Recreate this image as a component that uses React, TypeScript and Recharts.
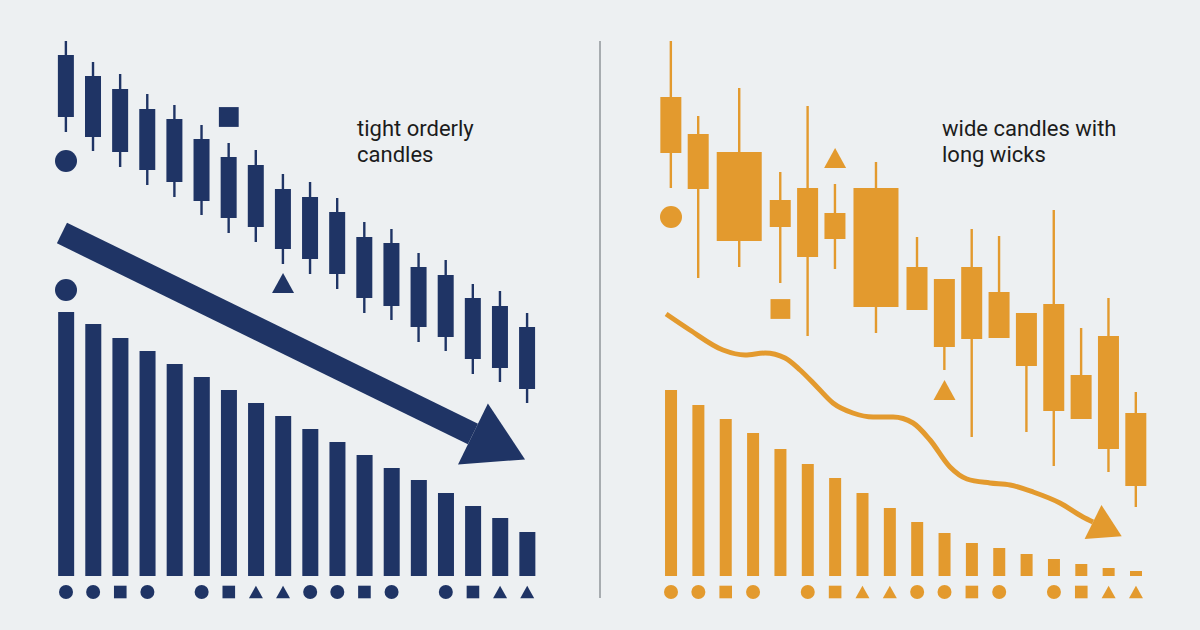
import React from "react";
import { ComposedChart, Bar, Line, Scatter, XAxis, YAxis } from "recharts";

// ─────────────────────────────────────────────────────────────────────────────
// Data — y values are in chart units (0 = volume baseline)
// ─────────────────────────────────────────────────────────────────────────────

// left panel: tight orderly candles
const leftX = [0, 1, 2, 3, 4, 5, 6, 7, 8, 9, 10, 11, 12, 13, 14, 15, 16, 17];
const leftHigh = [535, 514, 502, 482, 471, 451, 433, 426, 402, 394, 378, 354, 347, 323, 316, 292, 285, 263];
const leftOpen = [521, 500, 487, 467, 457, 437, 419, 411, 387, 379, 364, 339, 333, 309, 301, 278, 270, 249];
const leftClose = [459, 439, 424, 406, 394, 375, 358, 349, 327, 317, 302, 278, 270, 249, 239, 217, 208, 187];
const leftLow = [444, 425, 409, 391, 379, 361, 343, 334, 312, 302, 287, 263, 256, 234, 225, 202, 194, 173];
const leftVolume = [264, 252, 238, 225, 212, 199, 186, 173, 160, 147, 134, 121, 108, 96, 83, 70, 58, 44];

const leftMarkX = [0, 0, 6, 8];
const leftMarkY = [415, 286, 459, 293];
const leftMarkKind = ["circle", "circle", "square", "triangle"];

const leftArrowX = [-0.15, 15];
const leftArrowY = [343, 142];

// right panel: wide candles with long wicks
const rightVolX = [0, 1, 2, 3, 4, 5, 6, 7, 8, 9, 10, 11, 12, 13, 14, 15, 16, 17];
const rightVolume = [186, 171, 157, 143, 127, 112, 98, 83, 68, 54, 43, 33, 28, 22, 17, 12, 8, 5];

const rightCandleX = [0, 1, 2.5, 4, 5, 6, 7.5, 9, 10, 11, 12, 13, 14, 15, 16, 17];
const rightHigh = [535, 460, 488, 404, 470, 392, 414, 339, 297, 347, 340, 263, 366, 248, 278, 184];
const rightOpen = [479, 442, 424, 376, 388, 363, 388, 309, 297, 309, 284, 263, 272, 201, 240, 163];
const rightClose = [423, 387, 335, 349, 319, 337, 269, 266, 229, 237, 238, 210, 165, 157, 127, 90];
const rightLow = [388, 298, 309, 293, 240, 307, 243, 266, 206, 139, 238, 144, 110, 157, 104, 69];

const rightMarkX = [0, 4, 6, 10];
const rightMarkY = [359, 267, 418, 186];
const rightMarkKind = ["circle", "square", "triangle", "triangle"];

const curveX = [-0.18, 0.69, 1.9, 2.71, 3.44, 4.17, 4.72, 5.34, 5.92, 6.65, 7.39, 8.12, 8.85, 9.47, 10.2, 10.82, 11.66, 12.4, 13.24, 14.22, 15.06, 15.43];
const curveY = [262, 246, 226, 221, 223, 218, 206, 189, 173, 163, 159, 159, 153, 136, 109, 97, 93, 91, 84, 73, 59, 54];

// marker strip under the volume bars (same pattern on both sides)
const stripKind = ["circle", "circle", "square", "circle", null, "circle", "square", "triangle", "triangle", "circle", "circle", "square", "circle", null, "circle", "square", "triangle", "triangle"];
const STRIP_LEVEL = -16;

// ─────────────────────────────────────────────────────────────────────────────
// Style
// ─────────────────────────────────────────────────────────────────────────────

const BG = "#edf0f2";
const NAVY = "#1f3465";
const ORANGE = "#e39a2e";
const W = 600;
const H = 630;
const Y_DOMAIN: [number, number] = [-54, 576];
const LEFT_DOMAIN: [number, number] = [-2.433, 19.683];
const RIGHT_DOMAIN: [number, number] = [-2.596, 19.341];
const WIDE_BODY_IDX = [2, 6];

// ─────────────────────────────────────────────────────────────────────────────
// Shapes
// ─────────────────────────────────────────────────────────────────────────────

function Candle(props: any) {
  const { x, y, width, height, payload, bodyW, color } = props;
  if (x == null || y == null || !payload) return <g />;
  const cx = x + width / 2;
  const top = Math.min(y, y + height);
  const bottom = Math.max(y, y + height);
  const [low, high] = payload.range;
  const k = (bottom - top) / (high - low);
  const bTop = top + (high - Math.max(payload.open, payload.close)) * k;
  const bBot = top + (high - Math.min(payload.open, payload.close)) * k;
  return (
    <g>
      <line x1={cx} x2={cx} y1={top} y2={bottom} stroke={color} strokeWidth={2.4} />
      <rect x={cx - bodyW / 2} y={bTop} width={bodyW} height={bBot - bTop} fill={color} />
    </g>
  );
}

function VolumeBar(props: any) {
  const { x, y, width, height, w, color } = props;
  if (x == null || y == null) return <g />;
  const top = Math.min(y, y + height);
  return <rect x={x + width / 2 - w / 2} y={top} width={w} height={Math.abs(height)} fill={color} />;
}

function Marker(props: any) {
  const { cx, cy, payload, r, color } = props;
  if (cx == null || cy == null || !payload?.kind) return <g />;
  if (payload.kind === "circle") return <circle cx={cx} cy={cy} r={r} fill={color} />;
  if (payload.kind === "square") {
    const s = r * 0.9;
    return <rect x={cx - s} y={cy - s} width={s * 2} height={s * 2} fill={color} />;
  }
  const h = r * 0.9;
  return <polygon points={`${cx},${cy - h} ${cx + r},${cy + h} ${cx - r},${cy + h}`} fill={color} />;
}

// arrowhead on the last point, pointing along the last segment
const makeArrowDot = (count: number, len: number, half: number, color: string) => {
  let prev: { x: number; y: number } | null = null;
  return (p: any) => {
    const { cx, cy, index } = p;
    if (index === 0) prev = null;
    let out = <g key={`d${index}`} />;
    if (index === count - 1 && prev) {
      const a = Math.atan2(cy - prev.y, cx - prev.x);
      const ux = Math.cos(a);
      const uy = Math.sin(a);
      const tip = `${cx + ux * len},${cy + uy * len}`;
      const c1 = `${cx - uy * half},${cy + ux * half}`;
      const c2 = `${cx + uy * half},${cy - ux * half}`;
      out = <polygon key={`d${index}`} points={`${tip} ${c1} ${c2}`} fill={color} />;
    }
    prev = { x: cx, y: cy };
    return out;
  };
};

// ─────────────────────────────────────────────────────────────────────────────
// Tables built from the arrays
// ─────────────────────────────────────────────────────────────────────────────

const leftRows = leftX.map((x, i) => ({
  x,
  vol: leftVolume[i],
  range: [leftLow[i], leftHigh[i]],
  open: leftOpen[i],
  close: leftClose[i],
}));

const rightXs = Array.from(new Set([...rightVolX, ...rightCandleX])).sort((a, b) => a - b);
const rightRows = rightXs.map((x) => {
  const vi = rightVolX.indexOf(x);
  const ci = rightCandleX.indexOf(x);
  return {
    x,
    ci,
    vol: vi >= 0 ? rightVolume[vi] : undefined,
    range: ci >= 0 ? [rightLow[ci], rightHigh[ci]] : undefined,
    open: ci >= 0 ? rightOpen[ci] : undefined,
    close: ci >= 0 ? rightClose[ci] : undefined,
  };
});

const strip = stripKind.map((kind, i) => ({ x: i, y: STRIP_LEVEL, kind }));
const leftMarks = leftMarkX.map((x, i) => ({ x, y: leftMarkY[i], kind: leftMarkKind[i] }));
const rightMarks = rightMarkX.map((x, i) => ({ x, y: rightMarkY[i], kind: rightMarkKind[i] }));
const leftArrow = leftArrowX.map((x, i) => ({ x, y: leftArrowY[i] }));
const curve = curveX.map((x, i) => ({ x, y: curveY[i] }));

// ─────────────────────────────────────────────────────────────────────────────
// Panel
// ─────────────────────────────────────────────────────────────────────────────

function Panel({
  rows,
  xDomain,
  color,
  volW,
  bodyW,
  marks,
  trend,
  trendWidth,
  trendType,
  headLen,
  headHalf,
}: any) {
  return (
    <ComposedChart width={W} height={H} data={rows} margin={{ top: 0, right: 0, bottom: 0, left: 0 }}>
      <XAxis xAxisId="v" type="number" dataKey="x" domain={xDomain} allowDataOverflow hide />
      <XAxis xAxisId="c" type="number" dataKey="x" domain={xDomain} allowDataOverflow hide />
      <YAxis yAxisId="v" type="number" domain={Y_DOMAIN} allowDataOverflow hide />
      <YAxis yAxisId="c" type="number" domain={Y_DOMAIN} allowDataOverflow hide />

      <Bar
        xAxisId="v"
        yAxisId="v"
        dataKey="vol"
        isAnimationActive={false}
        shape={(p: any) => <VolumeBar {...p} w={volW} color={color} />}
      />
      <Bar
        xAxisId="c"
        yAxisId="c"
        dataKey="range"
        isAnimationActive={false}
        shape={(p: any) => (
          <Candle {...p} color={color} bodyW={typeof bodyW === "function" ? bodyW(p.payload) : bodyW} />
        )}
      />

      <Line
        xAxisId="c"
        yAxisId="c"
        data={trend}
        dataKey="y"
        type={trendType}
        stroke={color}
        strokeWidth={trendWidth}
        strokeLinecap="butt"
        dot={makeArrowDot(trend.length, headLen, headHalf, color)}
        activeDot={false}
        isAnimationActive={false}
      />

      <Scatter
        xAxisId="c"
        yAxisId="c"
        data={marks}
        dataKey="y"
        isAnimationActive={false}
        shape={(p: any) => <Marker {...p} r={11} color={color} />}
      />
      <Scatter
        xAxisId="c"
        yAxisId="c"
        data={strip}
        dataKey="y"
        isAnimationActive={false}
        shape={(p: any) => <Marker {...p} r={7} color={color} />}
      />
    </ComposedChart>
  );
}

const noteStyle: React.CSSProperties = {
  position: "absolute",
  top: 116,
  fontFamily: "Roboto, sans-serif",
  fontSize: 22,
  lineHeight: "26px",
  color: "#1c1c1c",
  whiteSpace: "nowrap",
};

export default function App() {
  return (
    <div style={{ position: "absolute", left: 0, top: 0, width: 1200, height: 630, background: BG, overflow: "hidden" }}>
      <div style={{ position: "absolute", left: 0, top: 0 }}>
        <Panel
          rows={leftRows}
          xDomain={LEFT_DOMAIN}
          color={NAVY}
          volW={16}
          bodyW={16}
          marks={leftMarks}
          trend={leftArrow}
          trendWidth={23}
          trendType="linear"
          headLen={58}
          headHalf={34}
        />
      </div>
      <div style={{ position: "absolute", left: 600, top: 0 }}>
        <Panel
          rows={rightRows}
          xDomain={RIGHT_DOMAIN}
          color={ORANGE}
          volW={12}
          bodyW={(row: any) => (WIDE_BODY_IDX.includes(row.ci) ? 45 : 21)}
          marks={rightMarks}
          trend={curve}
          trendWidth={5}
          trendType="monotone"
          headLen={32}
          headHalf={19}
        />
      </div>

      <div style={{ position: "absolute", left: 599, top: 41, width: 1.5, height: 557, background: "#a7acb0" }} />

      <div style={{ ...noteStyle, left: 357 }}>
        tight orderly
        <br />
        candles
      </div>
      <div style={{ ...noteStyle, left: 942 }}>
        wide candles with
        <br />
        long wicks
      </div>
    </div>
  );
}
